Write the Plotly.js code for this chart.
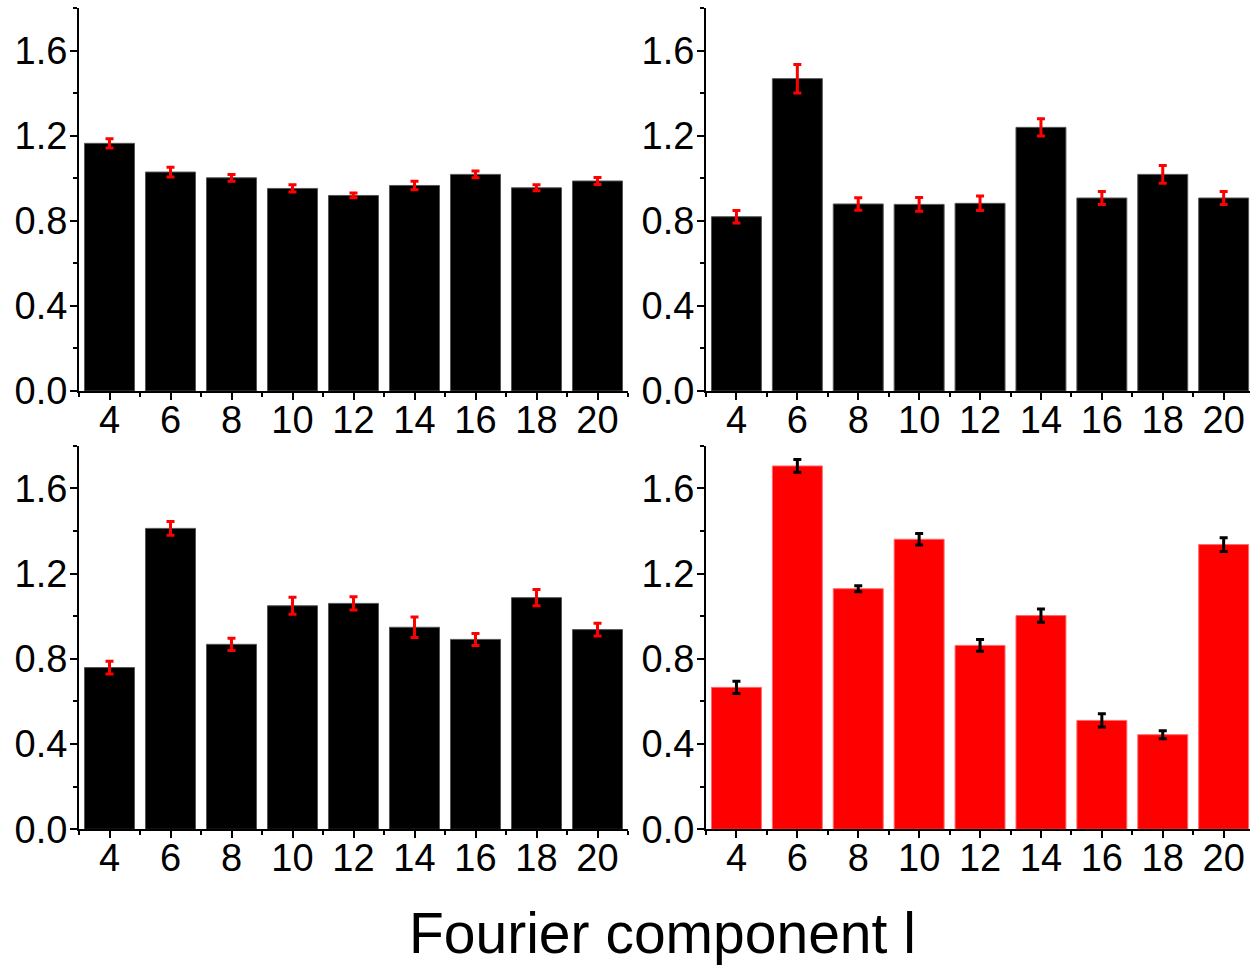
<!DOCTYPE html>
<html>
<head>
<meta charset="utf-8">
<script src="https://cdn.plot.ly/plotly-3.0.1.min.js"></script>
<style>html,body{margin:0;padding:0;background:#fff;}#chart{width:1250px;height:965px;}</style>
</head>
<body>
<div id="chart"></div>
<script>
// Fourier component l (categories)
const components = [4, 6, 8, 10, 12, 14, 16, 18, 20];
const tickLabels = ["4", "6", "8", "10", "12", "14", "16", "18", "20"];

// Panel A (top-left)
const valuesA = [1.164, 1.029, 1.002, 0.952, 0.919, 0.966, 1.018, 0.955, 0.987];
const errorsA = [0.022, 0.023, 0.016, 0.017, 0.011, 0.020, 0.016, 0.014, 0.016];
// Panel B (top-right)
const valuesB = [0.819, 1.468, 0.879, 0.877, 0.882, 1.239, 0.907, 1.018, 0.907];
const errorsB = [0.029, 0.067, 0.029, 0.032, 0.034, 0.040, 0.031, 0.042, 0.031];
// Panel C (bottom-left)
const valuesC = [0.759, 1.412, 0.868, 1.049, 1.060, 0.948, 0.891, 1.087, 0.937];
const errorsC = [0.030, 0.032, 0.029, 0.040, 0.031, 0.048, 0.028, 0.038, 0.030];
// Panel D (bottom-right)
const valuesD = [0.666, 1.705, 1.129, 1.361, 0.863, 1.003, 0.511, 0.444, 1.336];
const errorsD = [0.029, 0.030, 0.014, 0.027, 0.028, 0.031, 0.031, 0.019, 0.032];

const yTicks = [0, 0.4, 0.8, 1.2, 1.6];
const yTickLabels = ["0.0", "0.4", "0.8", "1.2", "1.6"];
const xTitle = "Fourier component l";

function barTrace(vals, errs, xa, ya, fill, outline, errColor) {
  return {
    type: 'bar', x: components, y: vals, xaxis: xa, yaxis: ya,
    width: 1.64,
    marker: {color: fill, line: {color: outline, width: 1}},
    error_y: {type: 'data', array: errs, visible: true, color: errColor, thickness: 3, width: 4},
    hoverinfo: 'skip', showlegend: false
  };
}

const data = [
  barTrace(valuesA, errorsA, 'x', 'y', '#000000', '#555555', '#ff0000'),
  barTrace(valuesB, errorsB, 'x2', 'y2', '#000000', '#555555', '#ff0000'),
  barTrace(valuesC, errorsC, 'x3', 'y3', '#000000', '#555555', '#ff0000'),
  barTrace(valuesD, errorsD, 'x4', 'y4', '#ff0000', '#ff6a6a', '#000000')
];

const tickFont = {family: '"Liberation Sans", Arial, sans-serif', size: 38, color: '#000'};

function xAxis(domain, range, anchor) {
  return {
    domain: domain, range: range, anchor: anchor,
    tickmode: 'array', tickvals: components, ticktext: tickLabels,
    ticks: 'outside', ticklen: 7, tickwidth: 2, tickcolor: '#000',
    minor: {ticks: 'outside', ticklen: 4, tickwidth: 2, tickcolor: '#000', tickmode: 'linear', tick0: 3, dtick: 2},
    showline: true, linecolor: '#000', linewidth: 2,
    ticklabelstandoff: -13,
    showgrid: false, zeroline: false, tickfont: tickFont, fixedrange: true
  };
}
function yAxis(domain, anchor) {
  return {
    domain: domain, range: [0, 1.8], anchor: anchor,
    tickmode: 'array', tickvals: yTicks, ticktext: yTickLabels,
    ticks: 'outside', ticklen: 7, tickwidth: 2, tickcolor: '#000',
    minor: {ticks: 'outside', ticklen: 4, tickwidth: 2, tickcolor: '#000', tickmode: 'linear', tick0: 0.2, dtick: 0.4},
    showline: true, linecolor: '#000', linewidth: 2,
    ticklabelstandoff: -5,
    showgrid: false, zeroline: false, tickfont: tickFont, fixedrange: true
  };
}

const W = 1250, H = 965;
const leftDom = [79 / W, 628 / W];
const rightDom = [706 / W, 1];
const topDom = [1 - 391 / H, 1 - 8 / H];
const botDom = [1 - 829.3 / H, 1 - 445.7 / H];
const rightRange = [3, 3 + 544 / 30.45];

const layout = {
  width: W, height: H,
  margin: {l: 0, r: 0, t: 0, b: 0},
  paper_bgcolor: '#fff', plot_bgcolor: 'rgba(0,0,0,0)',
  bargap: 0,
  xaxis: xAxis(leftDom, [3, 21], 'y'),
  yaxis: yAxis(topDom, 'x'),
  xaxis2: xAxis(rightDom, rightRange, 'y2'),
  yaxis2: yAxis(topDom, 'x2'),
  xaxis3: xAxis(leftDom, [3, 21], 'y3'),
  yaxis3: yAxis(botDom, 'x3'),
  xaxis4: xAxis(rightDom, rightRange, 'y4'),
  yaxis4: yAxis(botDom, 'x4'),
  annotations: [{
    text: xTitle, xref: 'paper', yref: 'paper',
    x: 662.5 / W, y: 1 - 933 / H, xanchor: 'center', yanchor: 'middle',
    showarrow: false,
    font: {family: '"Liberation Sans", Arial, sans-serif', size: 57, color: '#000'}
  }]
};

Plotly.newPlot('chart', data, layout, {staticPlot: true, displayModeBar: false});
</script>
</body>
</html>
